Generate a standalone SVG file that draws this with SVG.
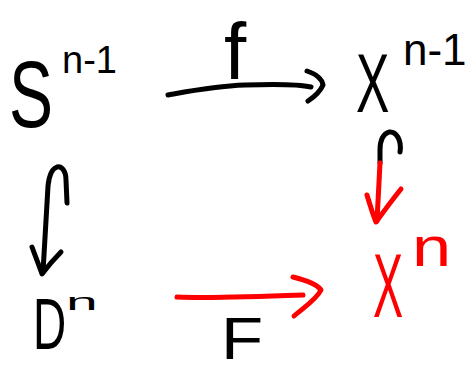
<svg xmlns="http://www.w3.org/2000/svg" width="471" height="372" viewBox="0 0 471 372">
<style>
.k{fill:#000;font-family:"Liberation Sans",Arial,sans-serif}
.r{fill:#ff0000;font-family:"Liberation Sans",Arial,sans-serif}
.ln{fill:none;stroke-width:5;stroke-linecap:round;stroke-linejoin:round}
.blk{stroke:#000}
.red{stroke:#ff0000}
</style>
<rect width="471" height="372" fill="#fff"/>
<g id="S">
<text class="k" transform="translate(9,127) scale(1,1.42)" font-size="66">S</text>
<text class="k" x="62" y="73" font-size="38">n-1</text>
</g>
<g id="Xn1">
<text class="k" transform="translate(356,112) scale(1,1.67)" font-size="50">X</text>
<text class="k" x="403" y="65" font-size="44">n-1</text>
</g>
<g id="D">
<text class="k" transform="translate(33,349) scale(1,1.58)" font-size="46">D</text>
<text class="k" transform="translate(66,310) scale(1.9,0.8)" font-size="30">n</text>
</g>
<g id="Xn">
<text class="r" transform="translate(373,317) scale(1,2)" font-size="45">X</text>
<text class="r" transform="translate(412,266) scale(1.6,1.25)" font-size="44">n</text>
</g>
<g id="labels">
<text class="k" x="224" y="79" font-size="80">f</text>
<text class="k" transform="translate(221,359) scale(1.15,1)" font-size="60">F</text>
</g>
<g id="connectors">
<path class="ln blk" d="M168,95 C190,91 215,86 245,85 C275,84 298,84 311,87"/>
<path class="ln blk" d="M307,71 C316,74 322,79 323,85 C320,92 314,97 308,101"/>
<path class="ln blk" d="M67,203 L66,180 C66,170 61,166 57,167 C51,169 49,176 48,186 L43,272"/>
<path class="ln blk" d="M32,247 C36,258 40,268 42,274 C48,266 55,258 61,252"/>
<path class="ln blk" d="M400,152 C402,140 396,131 389,132 C383,134 380,140 380,150 L380,163"/>
<path class="ln red" d="M380,163 L377,221"/>
<path class="ln red" d="M367,195 C370,205 373,215 376,222 C384,211 393,199 401,189"/>
<path class="ln red" d="M177,297 C200,298 250,297 303,295"/>
<path class="ln red" d="M293,277 C305,280 317,284 321,290 C316,300 303,308 294,316"/>
</g>
</svg>
